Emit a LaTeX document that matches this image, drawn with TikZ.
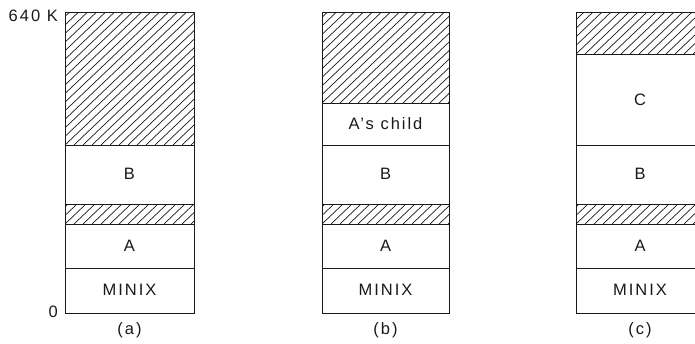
\documentclass[tikz,border=0pt]{standalone}
\usepackage{fontspec}
\setmainfont{Liberation Sans}
\newfontfamily\spaced[LetterSpace=12]{Liberation Sans}
\begin{document}
\begin{tikzpicture}[x=1pt,y=-1pt,
  box/.style={draw=black!90,line width=1pt},
  hatchline/.style={draw=black!90,line width=0.7pt},
  lbl/.style={font=\fontsize{16.5}{19}\selectfont\spaced,text=black!90,inner sep=0pt},
  caplbl/.style={font=\fontsize{16.5}{19}\selectfont\spaced,text=black!90,inner sep=0pt}]
\useasboundingbox (0,0) rectangle (695,343);
\newcommand\hatchband[4]{%
  \begin{scope}
    \clip (#1,#2) rectangle (#3,#4);
    \pgfmathsetmacro\hh{#4-#2}
    \foreach \s in {-153,-144,...,150}{
      \draw[hatchline] ({#1+\s},#4) -- ({#1+\s+1.05*\hh},#2);
    }
  \end{scope}}
% column (a)
\def\xa{65}\def\xb{194}
\hatchband{\xa}{12}{\xb}{145}
\hatchband{\xa}{204}{\xb}{224}
\draw[box] (\xa,12) rectangle (\xb,313);
\draw[box] (\xa,145) -- (\xb,145) (\xa,204) -- (\xb,204) (\xa,224) -- (\xb,224) (\xa,268) -- (\xb,268);
\node[lbl] (aB) at (129.5,174) {B};
\node[lbl] (aA) at (129.5,246) {A};
\node[lbl] (aM) at (129.5,290) {MINIX};
\node[caplbl] (ca) at (129.5,330) {(a)};
\node[lbl,anchor=east] (top) at (58,16) {640 K};
\node[lbl,anchor=east] (zero) at (58,312) {0};
% column (b)
\def\xa{322}\def\xb{449}
\hatchband{\xa}{12}{\xb}{103}
\hatchband{\xa}{204}{\xb}{224}
\draw[box] (\xa,12) rectangle (\xb,313);
\draw[box] (\xa,103) -- (\xb,103) (\xa,145) -- (\xb,145) (\xa,204) -- (\xb,204) (\xa,224) -- (\xb,224) (\xa,268) -- (\xb,268);
\node[lbl] (bC) at (385.5,124) {A’s child};
\node[lbl] (bB) at (385.5,174) {B};
\node[lbl] (bA) at (385.5,246) {A};
\node[lbl] (bM) at (385.5,290) {MINIX};
\node[caplbl] (cb) at (385.5,330) {(b)};
% column (c)
\def\xa{576}\def\xb{704}
\hatchband{\xa}{12}{\xb}{54}
\hatchband{\xa}{204}{\xb}{224}
\draw[box] (\xa,12) rectangle (\xb,313);
\draw[box] (\xa,54) -- (\xb,54) (\xa,145) -- (\xb,145) (\xa,204) -- (\xb,204) (\xa,224) -- (\xb,224) (\xa,268) -- (\xb,268);
\node[lbl] (cC) at (640,100) {C};
\node[lbl] (cB) at (640,174) {B};
\node[lbl] (cA) at (640,246) {A};
\node[lbl] (cM) at (640,290) {MINIX};
\node[caplbl] (cc) at (640,330) {(c)};
\end{tikzpicture}
\end{document}
